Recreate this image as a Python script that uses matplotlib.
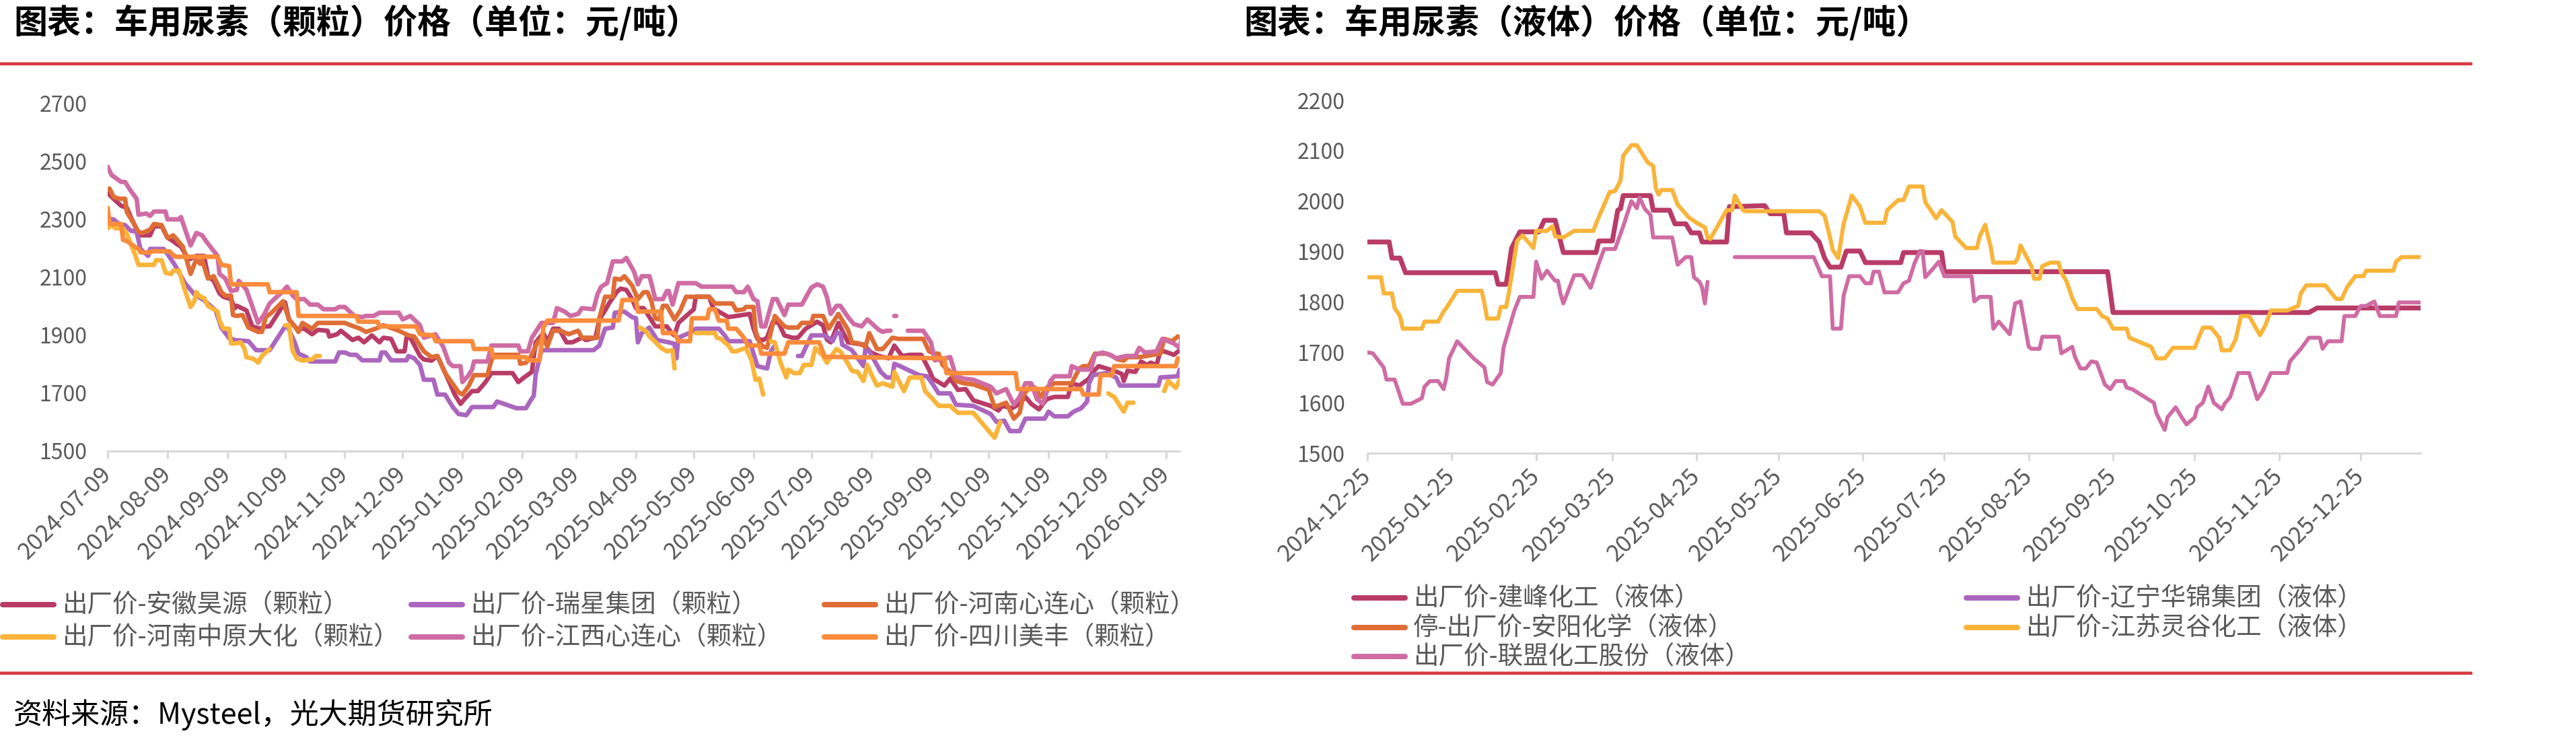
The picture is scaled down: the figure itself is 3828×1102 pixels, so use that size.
import numpy as np
import pandas as pd
import matplotlib
matplotlib.use('Agg')
import matplotlib.pyplot as plt
import matplotlib.dates as mdates
from matplotlib.lines import Line2D

plt.rcParams['font.family'] = ['Noto Sans CJK SC', 'DejaVu Sans']
plt.rcParams['axes.unicode_minus'] = False

W, H = 3828, 1102

# ---------------- granular urea (days since 2024-07-09) ----------------
start_g = '2024-07-09'

ah_days = [0, 3, 7, 10, 12, 14, 16, 22, 24, 28, 31, 33, 36, 38, 42, 46, 50, 52, 55, 58, 60, 64, 66, 67, 72, 75, 79, 82, 84,
           92, 94, 98, 102, 106, 109, 114, 115, 119, 121, 124, 127, 130, 133, 137, 141, 143, 147, 150, 154, 155, 157, 162,
           164, 168, 171, 174, 178, 180, 183, 185, 189, 192, 196, 199, 210, 213, 216, 220, 222, 226, 228, 231, 234, 238,
           241, 246, 248, 253, 255, 258, 260, 264, 266, 269, 272, 274, 278, 281, 284, 290, 293, 294, 296, 298, 304, 305,
           312, 314, 318, 322, 333, 335, 337, 340, 342, 345, 348, 351, 355, 358, 362, 365, 368, 371, 373, 375, 379, 384,
           392, 396, 400, 405, 408, 412, 416, 422, 426, 428, 434, 437, 441, 445, 449, 458, 462, 464, 469, 473, 476, 479,
           483, 487, 491, 498, 500, 504, 509, 511, 514, 518, 522, 526, 527, 529, 533, 536, 539, 541, 544, 546, 548, 553, 556]
ah_vals = [2390, 2370, 2346, 2338, 2307, 2279, 2244, 2244, 2275, 2275, 2236, 2228, 2213, 2205, 2160, 2173, 2173, 2103, 2087,
           2044, 2032, 2024, 1993, 2001, 1985, 1930, 1922, 1930, 1930, 2013, 1954, 1922, 1922, 1903, 1918, 1915, 1895, 1903,
           1915, 1899, 1883, 1891, 1875, 1899, 1875, 1891, 1887, 1844, 1844, 1891, 1891, 1828, 1816, 1812, 1828, 1785, 1726,
           1695, 1663, 1679, 1707, 1707, 1738, 1769, 1769, 1738, 1754, 1773, 1875, 1907, 1875, 1922, 1922, 1875, 1875, 1891,
           1883, 1891, 1954, 1985, 2009, 2048, 2060, 2056, 2024, 1993, 1993, 1962, 1930, 1930, 1903, 1899, 1942, 1954, 1989,
           2032, 2032, 1993, 1977, 1962, 1973, 1922, 1887, 1883, 1891, 1946, 1942, 1899, 1891, 1891, 1922, 1934, 1946, 1934,
           1885, 1875, 1942, 1875, 1867, 1840, 1828, 1820, 1864, 1828, 1832, 1832, 1781, 1750, 1726, 1750, 1711, 1714, 1675,
           1656, 1640, 1656, 1648, 1663, 1687, 1663, 1644, 1679, 1687, 1687, 1734, 1726, 1750, 1773, 1793, 1785, 1777, 1766,
           1742, 1777, 1773, 1809, 1797, 1805, 1797, 1844, 1844, 1832, 1848]

ry_days = [0, 3, 6, 9, 12, 15, 17, 21, 22, 29, 31, 35, 40, 45, 50, 56, 59, 63, 66, 73, 77, 84, 92, 93, 97, 99, 103, 105, 118,
           120, 123, 126, 129, 132, 141, 142, 144, 147, 155, 156, 159, 162, 164, 169, 171, 175, 179, 182, 186, 189, 200,
           202, 212, 217, 219, 221, 222, 225, 252, 255, 258, 262, 263, 268, 272, 274, 275, 277, 281, 285, 291, 294, 295,
           296, 303, 305, 317, 320, 322, 333, 335, 337, 342, 344, 346, 352, 358, 360, 365, 372, 376, 378, 380, 381, 386,
           392, 393, 395, 401, 404, 407, 408, 411, 416, 421, 425, 428, 431, 437, 440, 449, 458, 461, 465, 468, 473, 476,
           486, 488, 491, 498, 501, 505, 508, 509, 511, 515, 518, 523, 525, 545, 546, 555, 556]
ry_vals = [2299, 2299, 2283, 2279, 2260, 2256, 2197, 2173, 2197, 2197, 2180, 2140, 2080, 2040, 2020, 1985, 1925, 1890, 1883,
           1879, 1848, 1848, 1930, 1934, 1875, 1836, 1824, 1809, 1809, 1840, 1840, 1832, 1832, 1813, 1813, 1840, 1840, 1813,
           1813, 1828, 1820, 1797, 1746, 1746, 1695, 1695, 1652, 1628, 1624, 1652, 1652, 1671, 1648, 1648, 1671, 1691, 1765,
           1848, 1848, 1864, 1922, 1926, 1977, 1981, 1962, 1958, 1875, 1907, 1926, 1883, 1875, 1870, 1820, 1891, 1911, 1922,
           1922, 1899, 1879, 1879, 1836, 1793, 1785, 1844, 1864, None, 1828, 1828, 1899, 1899, 1879, 1907, 1907, 1867, 1848,
           1793, 1852, 1844, 1773, 1754, 1754, 1801, 1793, 1777, 1762, 1758, 1730, 1699, 1699, 1660, 1656, 1628, 1601, 1605,
           1569, 1569, 1612, 1612, 1636, 1620, 1620, 1636, 1648, 1671, 1734, 1762, 1766, 1769, 1754, 1726, 1726, 1754, 1758,
           1781]

hx_days = [0, 1, 3, 6, 9, 10, 13, 16, 18, 22, 24, 28, 31, 33, 34, 39, 43, 46, 48, 49, 52, 55, 59, 61, 64, 65, 67, 70, 73, 78,
           80, 82, 85, 91, 94, 97, 99, 101, 106, 109, 123, 126, 131, 134, 139, 143, 151, 156, 159, 164, 168, 171, 175, 182,
           184, 187, 190, 197, 199, 201, 213, 214, 217, 219, 223, 226, 228, 231, 235, 239, 244, 246, 254, 255, 258, 262,
           263, 266, 268, 272, 275, 278, 280, 282, 284, 286, 288, 290, 294, 297, 300, 312, 315, 324, 326, 330, 331, 335,
           336, 338, 340, 342, 346, 351, 353, 358, 360, 365, 366, 371, 374, 379, 384, 386, 390, 393, 395, 399, 402, 407,
           410, 423, 426, 429, 431, 433, 437, 440, 444, 449, 457, 460, 466, 470, 473, 475, 479, 481, 484, 487, 491, 500,
           504, 506, 509, 512, 518, 521, 524, 527, 529, 535, 546, 548, 552, 555, 557]
hx_vals = [2400, 2405, 2377, 2370, 2370, 2323, 2291, 2256, 2252, 2264, 2283, 2279, 2236, 2240, 2244, 2205, 2111, 2162, 2146,
           2158, 2095, 2103, 2048, 2036, 2036, 1969, 1966, 1969, 1926, 1911, 1911, 1962, 1977, 2017, 1954, 1930, 1911, 1942,
           1922, 1942, 1942, 1934, 1922, 1911, 1922, 1934, 1915, 1899, 1895, 1844, 1824, 1828, 1769, 1703, 1695, 1722, 1762,
           1762, 1813, 1832, 1832, 1801, 1805, 1820, 1875, 1891, 1860, 1915, 1915, 1903, 1915, 1891, 1891, 1958, 2032, 2032,
           2095, 2091, 2103, 2071, 2024, 2048, 2048, 2017, 1958, 1954, 2001, 2001, 1954, 1985, 2032, 2032, 2009, 2009, 1985,
           1989, 1997, 1997, 1915, 1875, 1860, 1856, 1966, 1930, 1926, 1926, 1942, 1942, 1966, 1966, 1922, 1973, 1918, 1875,
           1871, 1860, 1907, 1852, 1852, 1891, 1887, 1887, 1844, 1836, 1836, 1797, 1773, 1742, 1734, 1730, 1711, 1652, 1667,
           1612, 1632, 1695, 1726, 1718, 1687, 1718, 1734, 1734, 1785, 1793, 1793, 1836, 1836, 1828, 1816, 1812, 1824, 1824,
           1836, 1887, 1879, 1895, 1891]

zy_days = [0, 2, 4, 8, 10, 12, 14, 16, 24, 25, 28, 30, 33, 34, 37, 40, 43, 45, 46, 48, 50, 52, 57, 58, 60, 63, 64, 66, 69, 71,
           72, 76, 78, 80, 84, 88, 92, 94, 96, 98, 101, 106, 108, 110, 200, 276, 279, 281, 283, 287, 290, 293, 294, 300,
           305, 315, 316, 318, 322, 324, 326, 331, 334, 336, 338, 340, 342, 344, 346, 349, 352, 353, 356, 359, 361, 365,
           367, 371, 373, 378, 380, 384, 386, 389, 392, 394, 396, 399, 402, 407, 408, 413, 416, 422, 424, 428, 431, 437,
           441, 449, 456, 460, 463, 490, 519, 522, 527, 529, 532, 540, 548, 550, 554, 556]
zy_vals = [2268, 2279, 2268, 2268, 2248, 2213, 2181, 2142, 2142, 2158, 2158, 2115, 2111, 2122, 2122, 2056, 1997, 2017, 2048,
           2032, 2028, 2001, 1981, 1950, 1922, 1922, 1871, 1871, 1875, 1852, 1824, 1817, 1805, 1828, 1852, None, 1934, 1934,
           1844, 1820, 1812, 1816, 1828, 1828, None, 1926, 1915, 1895, 1883, 1856, 1844, 1848, 1785, None, 1907, 1907, 1891,
           1887, 1864, 1844, 1844, 1856, 1813, 1746, 1750, 1695, None, 1879, 1875, 1805, 1754, 1781, 1769, 1769, 1797, 1797,
           1856, 1828, 1805, 1852, 1844, 1801, 1777, 1773, 1742, 1797, 1766, 1726, 1734, 1722, 1773, 1707, 1754, 1754, 1707,
           1679, 1656, 1656, 1632, 1632, 1577, 1546, 1601, None, 1699, 1687, 1636, 1667, 1667, None, 1707, 1742, 1718, 1746]

jx_days = [0, 2, 7, 9, 12, 15, 16, 20, 22, 24, 30, 31, 37, 38, 43, 46, 49, 51, 57, 58, 61, 64, 67, 68, 72, 78, 81, 84, 91,
           93, 96, 98, 102, 105, 109, 112, 118, 120, 123, 128, 132, 134, 138, 141, 151, 153, 157, 162, 164, 170, 174, 177,
           179, 183, 184, 187, 189, 190, 197, 199, 213, 214, 218, 220, 225, 231, 233, 237, 240, 244, 246, 252, 254, 256,
           259, 262, 267, 269, 273, 275, 277, 281, 282, 284, 288, 290, 291, 293, 296, 305, 308, 324, 326, 330, 332, 335,
           337, 339, 341, 345, 347, 351, 353, 360, 365, 368, 371, 373, 375, 378, 380, 384, 387, 391, 394, 400, 402, 404,
           406, 407, 408, 409, 411, 415, 423, 427, 429, 437, 440, 444, 449, 458, 461, 466, 470, 473, 476, 479, 482, 485,
           489, 491, 499, 500, 504, 510, 512, 516, 520, 523, 528, 533, 535, 538, 544, 547, 553, 556, 557]
jx_vals = [2480, 2452, 2428, 2428, 2397, 2370, 2315, 2319, 2311, 2326, 2326, 2299, 2299, 2307, 2209, 2252, 2244, 2224, 2173,
           2111, 2095, 2052, 2056, 2087, 2056, 1942, 1969, 2009, 2052, 2067, 2036, 2024, 2024, 2005, 2005, 1989, 1989, 1997,
           1997, 1966, 1962, 1966, 1966, 1977, 1977, 1954, 1966, 1934, 1891, 1903, 1860, 1805, 1793, 1793, 1738, 1760, 1781,
           1809, 1809, 1864, 1864, 1844, 1844, 1891, 1942, 1942, 1993, 1981, 1966, 1973, 1993, 1989, 2040, 2067, 2079, 2154,
           2154, 2166, 2119, 2075, 2103, 2103, 2079, 2024, 2024, 2052, 2052, 2005, 2079, 2079, 2067, 2067, 2048, 2048, 2067,
           2024, 2017, 1930, 1930, 2024, 2024, 1969, 2005, 2005, 2064, 2075, 2067, 2032, 1973, 2001, 2001, 1962, 1938, 1930,
           1954, 1918, 1911, 1915, 1915, None, 1966, 1966, None, 1915, 1915, 1875, 1813, 1824, 1758, 1750, 1746, 1722, 1699,
           1714, 1660, 1687, 1734, 1734, 1679, 1663, 1742, 1758, 1758, 1793, 1781, 1781, 1832, 1840, 1832, 1820, 1828, 1828,
           1856, 1840, 1844, 1887, 1871, 1856, 1887]

sc_days = [0, 1, 7, 8, 10, 14, 16, 17, 22, 23, 32, 35, 57, 59, 63, 64, 83, 84, 98, 99, 129, 130, 140, 141, 160, 162, 169,
           170, 189, 190, 199, 200, 217, 218, 224, 226, 228, 265, 267, 274, 275, 287, 288, 294, 296, 302, 303, 311, 312,
           315, 317, 321, 322, 326, 330, 332, 338, 339, 351, 353, 369, 372, 434, 435, 471, 472, 505, 506, 514, 515, 521,
           522, 554, 555, 556]
sc_vals = [2338, 2283, 2283, 2228, 2224, 2205, 2197, 2185, 2185, 2189, 2189, 2170, 2170, 2142, 2138, 2075, 2075, 2048, 2048,
           1966, 1966, 1946, 1946, 1930, 1930, 1903, 1899, 1879, 1879, 1852, 1852, 1824, 1824, 1813, 1813, 1926, 1950, 1950,
           2021, 2021, 1981, 1981, 1907, 1907, 1879, 1879, 1958, 1958, 1989, 1989, 1950, 1950, 1922, 1922, 1891, 1864, 1864,
           1836, 1836, 1875, 1875, 1825, 1820, 1769, 1769, 1714, 1714, 1695, 1695, 1762, 1762, 1793, 1793, 1820, 1820]

g_names = ['出厂价-安徽昊源（颗粒）', '出厂价-瑞星集团（颗粒）', '出厂价-河南心连心（颗粒）',
           '出厂价-河南中原大化（颗粒）', '出厂价-江西心连心（颗粒）', '出厂价-四川美丰（颗粒）']
g_colors = ['#B83C66', '#AB66BE', '#DF6D36', '#F9B43A', '#CF6CA4', '#F98C3C']
g_days = [ah_days, ry_days, hx_days, zy_days, jx_days, sc_days]
g_vals = [ah_vals, ry_vals, hx_vals, zy_vals, jx_vals, sc_vals]

# ---------------- liquid urea (days since 2024-12-25) ----------------
start_l = '2024-12-25'

jf_days = [0, 8, 9, 12, 14, 47, 48, 51, 53, 56, 63, 65, 69, 72, 84, 85, 90, 92, 93, 94, 104, 105, 111, 113, 117, 119, 122,
           123, 132, 133, 146, 148, 153, 154, 163, 166, 168, 170, 174, 176, 181, 183, 196, 197, 211, 212, 272, 274, 346,
           349, 387]
jf_vals = [1919, 1919, 1887, 1887, 1858, 1858, 1835, 1835, 1907, 1939, 1939, 1962, 1962, 1898, 1898, 1921, 1921, 1982, 1985,
           2011, 2011, 1982, 1982, 1955, 1955, 1937, 1937, 1919, 1919, 1989, 1991, 1975, 1975, 1937, 1937, 1919, 1887, 1869,
           1869, 1901, 1901, 1878, 1878, 1898, 1898, 1860, 1860, 1779, 1779, 1788, 1788]

lg_days = [0, 5, 6, 9, 10, 12, 13, 20, 21, 26, 28, 29, 33, 42, 43, 44, 48, 49, 51, 52, 55, 57, 61, 62, 66, 68, 69, 72, 76,
           83, 85, 87, 89, 91, 93, 94, 97, 99, 103, 105, 106, 107, 108, 112, 114, 118, 121, 124, 125, 126, 132, 134, 135,
           138, 139, 166, 168, 170, 171, 173, 175, 178, 181, 183, 190, 191, 195, 197, 199, 204, 205, 209, 211, 215, 216,
           220, 224, 225, 227, 229, 230, 238, 239, 240, 244, 245, 247, 248, 251, 254, 255, 257, 259, 261, 268, 270, 272,
           274, 279, 280, 288, 290, 293, 296, 304, 307, 310, 313, 314, 317, 319, 321, 324, 328, 330, 332, 338, 342, 343,
           345, 352, 356, 358, 360, 363, 366, 367, 377, 378, 380, 387]
lg_vals = [1849, 1849, 1817, 1817, 1788, 1772, 1747, 1747, 1761, 1761, 1781, 1788, 1822, 1822, 1797, 1767, 1767, 1790, 1790,
           1819, 1921, 1932, 1907, 1941, 1941, 1950, 1930, 1928, 1941, 1941, 1968, 1993, 2018, 2020, 2041, 2090, 2111, 2111,
           2077, 2070, 2025, 2013, 2022, 2022, 1993, 1968, 1957, 1948, 1928, 1925, 1982, 1982, 2011, 1982, 1980, 1980, 1971,
           1928, 1903, 1887, 1955, 2011, 1989, 1957, 1957, 1982, 2002, 2002, 2029, 2029, 1998, 1966, 1982, 1959, 1930, 1907,
           1907, 1930, 1953, 1910, 1878, 1878, 1887, 1912, 1871, 1846, 1846, 1871, 1878, 1878, 1858, 1840, 1808, 1786, 1786,
           1772, 1767, 1747, 1747, 1729, 1711, 1688, 1688, 1709, 1709, 1749, 1749, 1729, 1704, 1704, 1725, 1772, 1772, 1734,
           1754, 1783, 1783, 1792, 1817, 1833, 1833, 1806, 1806, 1829, 1851, 1851, 1862, 1862, 1880, 1889, 1889]

lm_days = [0, 2, 6, 7, 10, 13, 16, 20, 21, 23, 26, 28, 29, 30, 33, 39, 43, 44, 46, 49, 50, 54, 56, 61, 62, 64, 66, 69, 70,
           71, 72, 76, 79, 82, 85, 87, 91, 94, 97, 99, 100, 102, 104, 105, 112, 114, 117, 119, 120, 122, 123, 124, 125,
           130, 135, 164, 167, 170, 171, 174, 175, 177, 181, 183, 185, 186, 188, 190, 195, 197, 199, 201, 203, 204, 205,
           208, 210, 212, 222, 223, 225, 229, 230, 232, 236, 238, 240, 243, 244, 247, 248, 254, 255, 259, 260, 262, 264,
           266, 268, 271, 273, 275, 278, 279, 281, 289, 290, 293, 294, 297, 299, 301, 304, 305, 307, 309, 311, 314, 315,
           317, 320, 324, 327, 329, 332, 338, 339, 343, 346, 350, 351, 353, 358, 359, 363, 365, 367, 370, 372, 378, 379,
           387]
lm_vals = [1700, 1698, 1670, 1646, 1646, 1598, 1598, 1609, 1632, 1643, 1643, 1627, 1650, 1688, 1722, 1688, 1670, 1641, 1636,
           1659, 1709, 1783, 1810, 1810, 1880, 1846, 1862, 1842, 1842, 1815, 1797, 1853, 1853, 1828, 1876, 1905, 1905, 1950,
           2000, 1986, 2007, 1984, 1973, 1928, 1928, 1874, 1889, 1889, 1849, 1840, 1829, 1797, 1840, None, 1889, 1889, 1851,
           1851, 1747, 1747, 1813, 1851, 1851, 1837, 1837, 1860, 1860, 1819, 1819, 1837, 1842, 1876, 1901, 1901, 1849, 1867,
           1880, 1851, 1851, 1801, 1810, 1810, 1747, 1761, 1736, 1797, 1801, 1711, 1707, 1707, 1731, 1731, 1698, 1711, 1691,
           1668, 1668, 1682, 1680, 1636, 1627, 1643, 1643, 1630, 1627, 1600, 1578, 1546, 1571, 1591, 1573, 1557, 1571, 1591,
           1600, 1632, 1600, 1587, 1598, 1611, 1659, 1659, 1607, 1623, 1659, 1659, 1682, 1707, 1729, 1729, 1707, 1722, 1722,
           1772, 1772, 1792, 1792, 1801, 1772, 1772, 1799, 1799]

l_names = ['出厂价-建峰化工（液体）', '出厂价-辽宁华锦集团（液体）', '停-出厂价-安阳化学（液体）',
           '出厂价-江苏灵谷化工（液体）', '出厂价-联盟化工股份（液体）']
l_colors = ['#B83C66', '#AB66BE', '#DF6D36', '#F9B43A', '#CF6CA4']
l_days = [jf_days, [], [], lg_days, lm_days]
l_vals = [jf_vals, [], [], lg_vals, lm_vals]
l_widths = [5.2, 4.2, 4.2, 4.4, 4.2]

TICK_GRAY = '#595959'
AXIS_GRAY = '#D9D9D9'
RED = '#D63A40'


def px_box(x0, y0, x1, y1):
    # pixel box (top-left origin) -> figure fraction rect
    return [x0 / W, 1 - y1 / H, (x1 - x0) / W, (y1 - y0) / H]


def to_dates(start, days):
    return pd.Timestamp(start) + pd.to_timedelta(np.array(days, dtype=float), unit='D')


def style_axes(ax, start, span, tick_dates, ylim, ystep, ypad):
    ax.set_xlim(pd.Timestamp(start), pd.Timestamp(start) + pd.Timedelta(days=span))
    ax.set_ylim(*ylim)
    ax.set_yticks(np.arange(ylim[0], ylim[1] + 1, ystep))
    for s in ['left', 'right', 'top']:
        ax.spines[s].set_visible(False)
    ax.spines['bottom'].set_color(AXIS_GRAY)
    ax.spines['bottom'].set_linewidth(2.2)
    ax.tick_params(axis='y', length=0, labelsize=23, labelcolor=TICK_GRAY, pad=ypad)
    ax.tick_params(axis='x', length=8, width=2.2, color=AXIS_GRAY, labelcolor=TICK_GRAY,
                   labelsize=25, pad=13)
    ax.set_xticks(tick_dates)
    ax.xaxis.set_major_formatter(mdates.DateFormatter('%Y-%m-%d'))
    for lab in ax.get_xticklabels():
        lab.set_rotation(45)
        lab.set_ha('right')
        lab.set_va('center')
        lab.set_rotation_mode('anchor')
    ax.patch.set_alpha(0)


def legend_entry(fig, x, y, color, text):
    fig.add_artist(Line2D([(x + 4) / W, (x + 80) / W], [1 - y / H, 1 - y / H], color=color,
                          lw=5.8, solid_capstyle='round', transform=fig.transFigure))
    fig.text((x + 92) / W, 1 - y / H, text, fontsize=27, color=TICK_GRAY, va='center', ha='left')


fig = plt.figure(figsize=(W / 100, H / 100), dpi=100)

# ---- left: granular ----
ax1 = fig.add_axes(px_box(160, 153, 1753, 670))
for d, v, c in zip(g_days, g_vals, g_colors):
    ax1.plot(to_dates(start_g, d), np.array(v, dtype=float), color=c, lw=4.8,
             solid_capstyle='round', solid_joinstyle='round')
ticks_g = pd.date_range(start_g, periods=19, freq=pd.DateOffset(months=1))
style_axes(ax1, start_g, 556, ticks_g, (1500, 2700), 200, 22)

# ---- right: liquid ----
ax2 = fig.add_axes(px_box(2032, 149, 3597, 673))
for d, v, c, w in zip(l_days, l_vals, l_colors, l_widths):
    if len(d) == 0:
        continue
    ax2.plot(to_dates(start_l, d), np.array(v, dtype=float), color=c, lw=w,
             solid_capstyle='round', solid_joinstyle='round')
ticks_l = pd.date_range(start_l, periods=13, freq=pd.DateOffset(months=1))
style_axes(ax2, start_l, 387, ticks_l, (1500, 2200), 100, 24)

# titles
fig.text(20 / W, 1 - 34 / H, '图表：车用尿素（颗粒）价格（单位：元/吨）', fontsize=36,
         fontweight='bold', va='center', ha='left', color='black')
fig.text(1848 / W, 1 - 34 / H, '图表：车用尿素（液体）价格（单位：元/吨）', fontsize=36,
         fontweight='bold', va='center', ha='left', color='black')

# red rules
for yy in (95, 1000):
    fig.add_artist(Line2D([0, 3672 / W], [1 - (yy - 2.5) / H] * 2, color='#E98A8E', lw=1.2,
                          transform=fig.transFigure))
    fig.add_artist(Line2D([0, 3672 / W], [1 - yy / H] * 2, color=RED, lw=3.0,
                          transform=fig.transFigure))

# legends
g_pos = [(0, 898), (607, 898), (1221, 898), (0, 946), (607, 946), (1221, 946)]
for (x, y), c, n in zip(g_pos, g_colors, g_names):
    legend_entry(fig, x, y, c, n)

l_pos = [(2008, 888), (2918, 888), (2008, 932), (2918, 932), (2008, 975)]
for (x, y), c, n in zip(l_pos, l_colors, l_names):
    legend_entry(fig, x, y, c, n)

# source
fig.text(20 / W, 1 - 1062 / H, '资料来源：Mysteel，光大期货研究所', fontsize=31,
         style='italic', va='center', ha='left', color='black')

fig.savefig('out.png', dpi=100)
